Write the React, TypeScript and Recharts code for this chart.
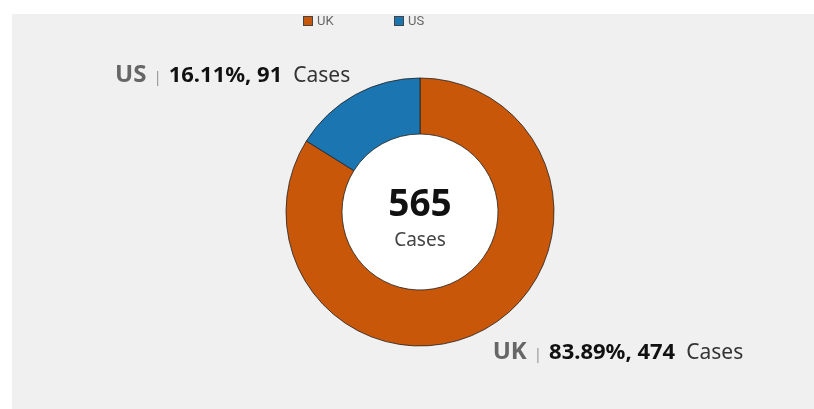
import React from 'react';
import { PieChart, Pie, Cell } from 'recharts';

const countries = ['UK', 'US'];
const cases = [474, 91];
const colors = ['#c8570a', '#1b75b0'];
const unit = 'Cases';

const data = countries.map((name, i) => ({ name, value: cases[i] }));
const total = cases.reduce((a, b) => a + b, 0);

const RADIAN = Math.PI / 180;
const FONT = '"Noto Sans", "Open Sans", sans-serif';

const renderLabel = (props: any) => {
  const { cx, cy, midAngle, outerRadius, percent, value, name } = props;
  const r = outerRadius + 14;
  const cos = Math.cos(-midAngle * RADIAN);
  const sin = Math.sin(-midAngle * RADIAN);
  const x = cx + r * cos;
  const y = cy + r * sin;
  const below = sin > 0;
  return (
    <text
      x={x + (cos >= 0 ? 1 : 2)}
      y={below ? y + 18 : y - 1}
      textAnchor={cos >= 0 ? 'start' : 'end'}
      fontFamily={FONT}
    >
      <tspan fontSize={24} fontWeight={700} fill="#666">{name}</tspan>
      <tspan dx={7} fontSize={15} fill="#999">|</tspan>
      <tspan dx={7} fontSize={22} fontWeight={700} fill="#111">
        {(percent * 100).toFixed(2)}%, {value}
      </tspan>
      <tspan dx={11} fontSize={21} fill="#333">{unit}</tspan>
    </text>
  );
};

// center total, drawn as the label of the white hole
const renderCenter = (props: any) => {
  const { cx, cy } = props;
  return (
    <g>
      <text x={cx} y={cy + 4} textAnchor="middle" fontFamily={FONT} fontSize={37} fontWeight={700} fill="#111">
        {total}
      </text>
      <text x={cx} y={cy + 34} textAnchor="middle" fontFamily={FONT} fontSize={19} fill="#444">
        {unit}
      </text>
    </g>
  );
};

export default function App() {
  return (
    <div style={{ position: 'fixed', left: 12, top: 14, right: 0, bottom: 0, background: '#f0f0f0' }}>
      <div
        style={{
          position: 'absolute',
          left: 291,
          top: 0,
          display: 'flex',
          fontFamily: 'Roboto, sans-serif',
          fontSize: 13,
          lineHeight: '14px',
          color: '#666',
        }}
      >
        {countries.map((c, i) => (
          <div key={c} style={{ width: 91, display: 'flex', alignItems: 'center' }}>
            <span
              style={{
                display: 'inline-block',
                width: 8,
                height: 8,
                background: colors[i],
                border: '1px solid #444',
                marginRight: 4,
              }}
            />
            {c}
          </div>
        ))}
      </div>
      <PieChart width={802} height={395} margin={{ top: 0, right: 0, bottom: 0, left: 0 }}>
        <Pie
          data={[{ name: 'hole', value: total }]}
          dataKey="value"
          cx={408}
          cy={198}
          innerRadius={0}
          outerRadius={78}
          fill="#ffffff"
          stroke="none"
          legendType="none"
          label={renderCenter}
          labelLine={false}
          isAnimationActive={false}
        />
        <Pie
          data={data}
          dataKey="value"
          nameKey="name"
          cx={408}
          cy={198}
          innerRadius={78}
          outerRadius={134}
          startAngle={90}
          endAngle={-270}
          stroke="#222"
          strokeWidth={0.8}
          label={renderLabel}
          labelLine={false}
          isAnimationActive={false}
        >
          {data.map((d, i) => (
            <Cell key={d.name} fill={colors[i]} />
          ))}
        </Pie>
      </PieChart>
    </div>
  );
}
